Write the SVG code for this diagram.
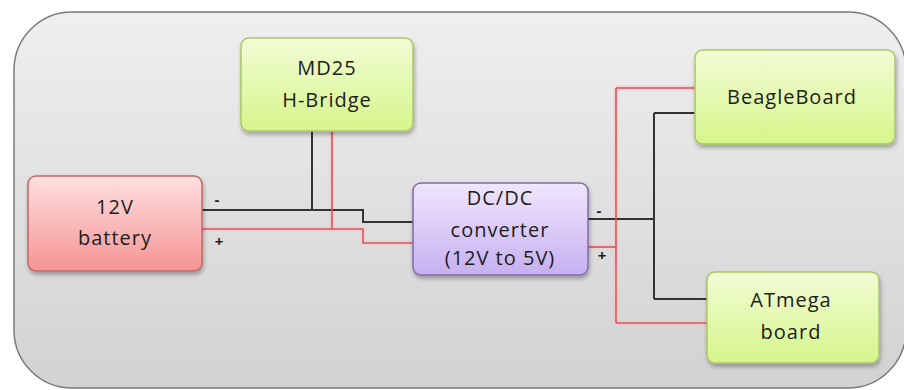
<svg xmlns="http://www.w3.org/2000/svg" width="904" height="390" viewBox="0 0 904 390">
<defs>
<linearGradient id="bg" x1="0" y1="0" x2="0" y2="1"><stop offset="0" stop-color="#efefef"/><stop offset="1" stop-color="#d2d2d2"/></linearGradient>
<linearGradient id="gGreen" x1="0" y1="0" x2="0" y2="1"><stop offset="0" stop-color="#f2fcd6"/><stop offset="1" stop-color="#d6f58a"/></linearGradient>
<linearGradient id="gRed" x1="0" y1="0" x2="0" y2="1"><stop offset="0" stop-color="#ffe0e0"/><stop offset="1" stop-color="#f59494"/></linearGradient>
<linearGradient id="gPurple" x1="0" y1="0" x2="0" y2="1"><stop offset="0" stop-color="#f0e6fd"/><stop offset="1" stop-color="#c6b0f0"/></linearGradient>
<filter id="sh" x="-10%" y="-10%" width="125%" height="130%"><feDropShadow dx="1" dy="3" stdDeviation="2" flood-color="#000" flood-opacity="0.3"/></filter>
</defs>
<style>
text{font-family:"Open Sans","Liberation Sans",sans-serif;font-size:20px;fill:#1c1c1c;text-anchor:middle;letter-spacing:1px}
.pm{font-size:15px;font-weight:bold;letter-spacing:0}
.g{fill:url(#gGreen);stroke:#a9c766;stroke-width:1.5}
.r{fill:url(#gRed);stroke:#c26565;stroke-width:1.5}
.p{fill:url(#gPurple);stroke:#7d6ea8;stroke-width:1.5}
.blk{fill:none;stroke:#333;stroke-width:2}
.red{fill:none;stroke:#d8565e;stroke-width:1.6}
.halo{fill:none;stroke:#f7c6c8;stroke-width:5;opacity:0.6}
</style>
<rect x="14" y="12" width="892" height="376" rx="58" fill="url(#bg)" stroke="#7a7a7a" stroke-width="1.5"/>
<g id="connectors">
<path class="halo" d="M202 229H363V243H413M332 131V229M588 247H616M616 88V323M616 88H695M616 323H707"/>
<path class="blk" d="M202 210H363V222H413"/>
<path class="blk" d="M312 131V210"/>
<path class="red" d="M202 229H363V243H413"/>
<path class="red" d="M332 131V229"/>
<path class="blk" d="M588 219H654"/>
<path class="blk" d="M654 113V299"/>
<path class="blk" d="M654 113H695M654 299H707"/>
<path class="red" d="M588 247H616"/>
<path class="red" d="M616 88V323"/>
<path class="red" d="M616 88H695M616 323H707"/>
<text class="pm" x="217" y="205">-</text>
<text class="pm" x="219" y="247">+</text>
<text class="pm" x="599" y="216">-</text>
<text class="pm" x="602" y="261">+</text>
</g>
<g id="md25">
<rect class="g" x="241" y="38" width="172" height="93" rx="8" filter="url(#sh)"/>
<text x="327" y="75">MD25</text>
<text x="327" y="107">H-Bridge</text>
</g>
<g id="beagleboard">
<rect class="g" x="695" y="50" width="200" height="94" rx="8" filter="url(#sh)"/>
<text x="792" y="104">BeagleBoard</text>
</g>
<g id="battery">
<rect class="r" x="28" y="176" width="174" height="95" rx="8" filter="url(#sh)"/>
<text x="115" y="214">12V</text>
<text x="115" y="245">battery</text>
</g>
<g id="dcdc">
<rect class="p" x="413" y="183" width="175" height="92" rx="8" filter="url(#sh)"/>
<text x="500" y="205">DC/DC</text>
<text x="500" y="237">converter</text>
<text x="500" y="265">(12V to 5V)</text>
</g>
<g id="atmega">
<rect class="g" x="707" y="272" width="172" height="91" rx="8" filter="url(#sh)"/>
<text x="791" y="307">ATmega</text>
<text x="791" y="339">board</text>
</g>
</svg>
